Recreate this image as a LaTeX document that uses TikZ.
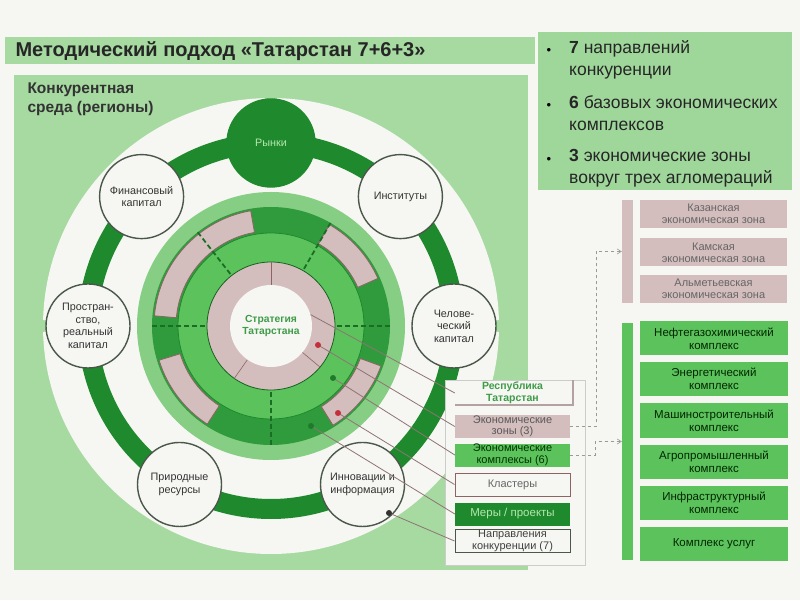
\documentclass[tikz,border=0pt]{standalone}
\usepackage{fontspec}
\setmainfont{Liberation Sans}
\usepackage{tikz}
\usetikzlibrary{arrows.meta}

\definecolor{panelgreen}{HTML}{A6DAA1}
\definecolor{boxgreen}{HTML}{9FD79B}
\definecolor{darkgreen}{HTML}{1F8A2D}
\definecolor{ringgreen}{HTML}{2F9B3C}
\definecolor{midgreen}{HTML}{5CC35C}
\definecolor{halogreen}{HTML}{86CE84}
\definecolor{pinkgrey}{HTML}{D4BDBD}
\definecolor{pinkedge}{HTML}{8C6464}
\definecolor{offwhite}{HTML}{F6F6F2}
\definecolor{nodeedge}{HTML}{4A584A}
\definecolor{leadcol}{HTML}{8E7474}
\definecolor{textgreen}{HTML}{3E9C48}
\definecolor{lightlabel}{HTML}{B4E8AE}
\definecolor{dotred}{HTML}{C4303A}
\definecolor{dotgreen}{HTML}{1E7B2C}

\tikzset{
  sat/.style={circle, draw=nodeedge, line width=1.4pt, fill=offwhite, minimum size=84pt,
    inner sep=0pt, align=center, font=\fontsize{10.8}{12.5}\selectfont, text=black!80},
  legbox/.style={minimum width=115pt, minimum height=23pt, inner sep=0pt, align=center,
    font=\fontsize{11}{11.5}\selectfont},
  zonebox/.style={fill=pinkgrey, minimum width=147pt, minimum height=28pt, inner sep=0pt,
    align=center, text=black!60, font=\fontsize{11}{12}\selectfont},
  compbox/.style={fill=midgreen, minimum width=148pt, minimum height=34pt, inner sep=0pt,
    align=center, text=black!85!green, font=\fontsize{11.5}{13}\selectfont},
  bullettext/.style={anchor=north west, inner sep=0pt, align=left,
    font=\fontsize{17.5}{22.5}\selectfont, text=black!85},
  leader/.style={draw=leadcol, line width=0.8pt},
  conn/.style={draw=black!40, dashed, line width=0.6pt, -{Straight Barb[length=4pt,width=5pt]}},
  divline/.style={draw=darkgreen!80!black, dash pattern=on 5pt off 3pt, line width=1.8pt},
}

\begin{document}
\begin{tikzpicture}[x=1pt,y=1pt]
\useasboundingbox (0,0) rectangle (800,600);
\fill[offwhite] (0,0) rectangle (800,600);
\coordinate (C) at (271,274);

% Title
\fill[panelgreen] (5,536) rectangle (535,563);
\node[anchor=west, font=\bfseries\fontsize{20}{22}\selectfont, text=black!85] (title) at (12,549)
  {Методический подход «Татарстан 7+6+3»};

% Bullet box
\fill[boxgreen] (538,410) rectangle (792,568);
\node[font=\fontsize{13}{16}\selectfont] (dot7) at (549,549) {•};
\node[bullettext] (b7) at (569,560) {\textbf{7} направлений\\конкуренции};
\node[font=\fontsize{13}{16}\selectfont] (dot6) at (549,494) {•};
\node[bullettext] (b6) at (569,505) {\textbf{6} базовых экономических\\комплексов};
\node[font=\fontsize{13}{16}\selectfont] (dot3) at (549,440) {•};
\node[bullettext] (b3) at (569,451) {\textbf{3} экономические зоны\\вокруг трех агломераций};

% Panel
\fill[panelgreen] (14,30) rectangle (528,525);
\node[anchor=north west, align=left, font=\bfseries\fontsize{15.5}{19}\selectfont, text=black!80] (env)
  at (24,521) {Конкурентная\\среда (регионы)};

% White field and gaps
\fill[offwhite] (C) circle[radius=228];
\begin{scope}[shift={(271,274)}]
  \fill[panelgreen] (90:180) -- (88.4:233) -- (91.6:233) -- cycle;
  \fill[panelgreen] (0:180) -- (-1.6:233) -- (1.6:233) -- cycle;
  \fill[panelgreen] (180:180) -- (178.4:233) -- (181.6:233) -- cycle;
\end{scope}

% Ring of factors
\draw[darkgreen, line width=20pt] (C) circle[radius=183];
\path (C) ++(90:183) node[sat, fill=darkgreen, draw=darkgreen, text=lightlabel, minimum size=88pt] (rynki) {Рынки};
\path (C) ++(45:183) node[sat] (inst) {Институты};
\path (C) ++(0:183) node[sat] (human) {Челове-\\ческий\\капитал};
\path (C) ++(-60:183) node[sat] (innov) {Инновации и\\информация};
\path (C) ++(-120:183) node[sat] (nature) {Природные\\ресурсы};
\path (C) ++(180:183) node[sat] (space) {Простран-\\ство,\\реальный\\капитал};
\path (C) ++(135:183) node[sat] (fin) {Финансовый\\капитал};

% Core
\begin{scope}[shift={(271,274)}]
  \fill[halogreen] (0,0) circle[radius=134];
  \fill[ringgreen] (0,0) circle[radius=119];
  \foreach \a/\b in {100/175, 24/60, 197/237, -58/-20}
    \filldraw[fill=pinkgrey, draw=pinkedge, line width=0.8pt] (\a:95) arc[start angle=\a, end angle=\b, radius=95]
      -- (\b:117) arc[start angle=\b, end angle=\a, radius=117] -- cycle;
  \filldraw[fill=midgreen, draw=darkgreen, line width=0.8pt] (0,0) circle[radius=93];
  \filldraw[fill=pinkgrey, draw=darkgreen!70!black, line width=0.8pt] (0,0) circle[radius=64];
  \foreach \a in {90,-40,-125}
    \draw[pinkedge, line width=0.6pt] (\a:41) -- (\a:64);
  \foreach \a in {0,60,128,180,270}
    \draw[divline] (\a:66) -- (\a:121);
  \node[circle, fill=offwhite, minimum size=82pt, inner sep=0pt, align=center, text=textgreen,
    font=\bfseries\fontsize{10.3}{12}\selectfont] (strat) at (0,0) {Стратегия\\Татарстана};
\end{scope}

% Legend
\filldraw[fill=offwhite, draw=black!20, line width=0.8pt] (445,35) rectangle (585,220);
\draw[pinkgrey!85!black, line width=1.5pt] (455,195) -- (573,195) -- (573,220);
\node[legbox, text=textgreen, font=\bfseries\fontsize{10.5}{12}\selectfont] (rt) at (512.5,207) {Республика\\Татарстан};
\node[legbox, fill=pinkgrey, text=black!65] (zones) at (512.5,173.5) {Экономические\\зоны (3)};
\node[legbox, fill=midgreen, text=black!80!green] (complexes) at (512.5,145) {Экономические\\комплексы (6)};
\node[legbox, draw=pinkedge, line width=1pt, fill=offwhite, text=black!60] (clusters) at (512.5,115.5) {Кластеры};
\node[legbox, fill=darkgreen, text=lightlabel, font=\fontsize{11.5}{12}\selectfont] (measures) at (512.5,86) {Меры / проекты};
\node[legbox, draw=nodeedge, line width=1pt, fill=offwhite, text=black!75] (dirs) at (512.5,59) {Направления\\конкуренции (7)};

% Zones and complexes
\node[fill=pinkgrey, minimum width=11pt, minimum height=103pt, inner sep=0pt] (zonebar) at (627.5,348.5) {};
\node[zonebox] (kazan) at (713.5,386) {Казанская\\экономическая зона};
\node[zonebox] (kama) at (713.5,347.5) {Камская\\экономическая зона};
\node[zonebox] (almet) at (713.5,311) {Альметьевская\\экономическая зона};
\node[fill=midgreen, minimum width=11pt, minimum height=237pt, inner sep=0pt] (compbar) at (627.5,158.5) {};
\node[compbox] (oil) at (714,261.5) {Нефтегазохимический\\комплекс};
\node[compbox] (energy) at (714,221) {Энергетический\\комплекс};
\node[compbox] (machine) at (714,179.5) {Машиностроительный\\комплекс};
\node[compbox] (agro) at (714,138.5) {Агропромышленный\\комплекс};
\node[compbox] (infra) at (714,97.5) {Инфраструктурный\\комплекс};
\node[compbox] (serv) at (714,56.5) {Комплекс услуг};

\draw[conn] (zones.east) -- ++(26,0) |- (zonebar.west);
\draw[conn] (complexes.east) -- ++(25,0) |- (compbar.west);

% Markers and leaders
\coordinate (dzone) at (318,255);
\coordinate (dcomp) at (333,222);
\coordinate (dclus) at (338,187);
\coordinate (dmeas) at (311,174);
\coordinate (ddirs) at (389,87);
\draw[leader] (strat.16) -- (rt.west);
\draw[leader] (dzone) -- (zones.west);
\draw[leader] (dcomp) -- (complexes.west);
\draw[leader] (dclus) -- (clusters.west);
\draw[leader] (dmeas) -- (measures.west);
\draw[leader] (ddirs) -- (dirs.west);
\fill[dotred] (dzone) circle[radius=3];
\fill[dotgreen] (dcomp) circle[radius=3];
\fill[dotred] (dclus) circle[radius=3];
\fill[dotgreen] (dmeas) circle[radius=3];
\fill[black!80] (ddirs) circle[radius=3];

\end{tikzpicture}
\end{document}
